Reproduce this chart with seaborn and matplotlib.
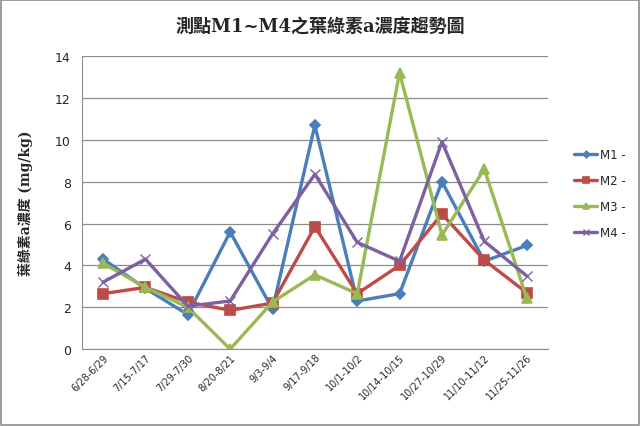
import matplotlib
matplotlib.use("Agg")
import matplotlib.pyplot as plt
import seaborn as sns
import pandas as pd
from matplotlib.patches import Rectangle

categories = ["6/28-6/29", "7/15-7/17", "7/29-7/30", "8/20-8/21", "9/3-9/4", "9/17-9/18",
              "10/1-10/2", "10/14-10/15", "10/27-10/29", "11/10-11/12", "11/25-11/26"]
m1 = [4.3, 2.9, 1.65, 5.6, 1.9, 10.7, 2.3, 2.65, 8.0, 4.2, 4.95]
m2 = [2.65, 2.95, 2.25, 1.85, 2.2, 5.85, 2.65, 4.0, 6.45, 4.25, 2.7]
m3 = [4.1, 2.95, 2.0, 0.0, 2.25, 3.55, 2.65, 13.2, 5.45, 8.6, 2.45]
m4 = [3.2, 4.3, 2.05, 2.3, 5.5, 8.35, 5.1, 4.2, 9.9, 5.15, 3.5]
series_names = ["M1 -", "M2 -", "M3 -", "M4 -"]
series_values = [m1, m2, m3, m4]

title = "測點M1~M4之葉綠素a濃度趨勢圖"
ylabel = "葉綠素a濃度 (mg/kg)"
yticks = [0, 2, 4, 6, 8, 10, 12, 14]

colors = ["#4A7EBB", "#BE4B48", "#98B954", "#7D60A0"]
markers = ["D", "s", "^", "x"]
msizes = [5.5, 7.5, 7.5, 7.5]

sns.set_style("white")
plt.rcParams['font.family'] = ['DejaVu Sans', 'Noto Sans CJK TC']

rows = []
for name, vals in zip(series_names, series_values):
    for c, v in zip(categories, vals):
        rows.append({"period": c, "value": v, "series": name})
df = pd.DataFrame(rows)

fig = plt.figure(figsize=(6.4, 4.27), dpi=100)
ax = fig.add_axes([0.128, 0.180, 0.728, 0.6865])

for name, col, mk, ms in zip(series_names, colors, markers, msizes):
    sub = df[df["series"] == name]
    sns.lineplot(data=sub, x="period", y="value", sort=False, ax=ax, color=col,
                 marker=mk, markersize=ms, linewidth=2.4, label=name,
                 markeredgecolor=col, markeredgewidth=1.2 if mk != "x" else 1.0)

ax.set_ylim(0, 14)
ax.set_yticks(yticks)
ax.set_xlim(-0.5, len(categories) - 0.5)
ax.grid(axis="y", color="#8c8c8c", linewidth=0.9)
ax.set_axisbelow(True)
for s in ["top", "right"]:
    ax.spines[s].set_visible(False)
ax.spines["left"].set_color("#8c8c8c")
ax.spines["bottom"].set_color("#8c8c8c")
ax.tick_params(axis="y", labelsize=9, length=0, pad=8)
ax.tick_params(axis="x", labelsize=7, length=0, pad=2)
ax.set_xticks(range(len(categories)))
ax.set_xticklabels(categories, rotation=45, ha="right", rotation_mode="anchor")
ax.set_xlabel("")
ax.set_ylabel(ylabel, fontsize=10, fontweight="bold",
              family=['DejaVu Serif', 'Noto Sans CJK TC'], labelpad=16)

fig.text(0.5, 0.935, title, ha="center", va="center", fontsize=13, fontweight="bold",
         family=['DejaVu Serif', 'Noto Sans CJK TC'])

leg = ax.legend(loc="center left", bbox_to_anchor=(0.88, 0.545), bbox_transform=fig.transFigure,
                frameon=False, fontsize=8.5, handlelength=2.0, handletextpad=0.2,
                labelspacing=1.1, markerscale=0.6)

fig.add_artist(Rectangle((0.002, 0.002), 0.996, 0.996, transform=fig.transFigure,
                         fill=False, edgecolor="#8c8c8c", linewidth=1.2))

fig.savefig("out.png", dpi=100, facecolor="white")
